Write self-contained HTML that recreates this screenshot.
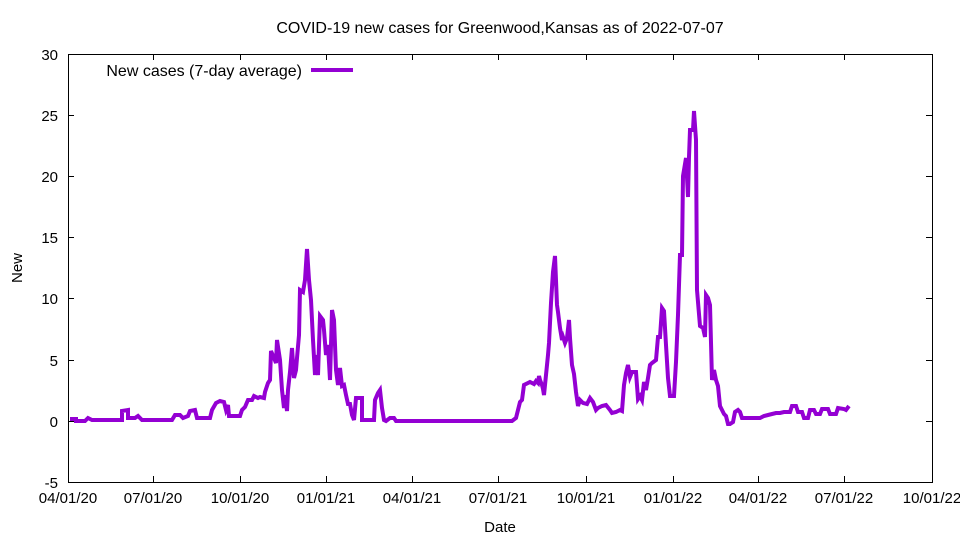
<!DOCTYPE html>
<html><head><style>body{margin:0;background:#fff}svg{display:block;font-family:"Liberation Sans",sans-serif}</style></head><body>
<svg width="960" height="540" viewBox="0 0 960 540" xmlns="http://www.w3.org/2000/svg">
<rect width="960" height="540" fill="#fff"/>
<text x="500" y="33" font-size="16" text-anchor="middle">COVID-19 new cases for Greenwood,Kansas as of 2022-07-07</text>
<g stroke="#000" stroke-width="1" fill="none">
<rect x="68.5" y="54.5" width="864" height="428"/>
<path d="M68 115.5h6M926 115.5h6M68 176.5h6M926 176.5h6M68 237.5h6M926 237.5h6M68 298.5h6M926 298.5h6M68 360.5h6M926 360.5h6M68 421.5h6M926 421.5h6"/>
<path d="M153.5 482v-6M153.5 54v6M240.5 482v-6M240.5 54v6M326.5 482v-6M326.5 54v6M412.5 482v-6M412.5 54v6M498.5 482v-6M498.5 54v6M586.5 482v-6M586.5 54v6M673.5 482v-6M673.5 54v6M758.5 482v-6M758.5 54v6M844.5 482v-6M844.5 54v6"/>
</g>
<g font-size="15" text-anchor="end">
<text x="58" y="60">30</text><text x="58" y="121">25</text><text x="58" y="182">20</text><text x="58" y="243">15</text><text x="58" y="304">10</text><text x="58" y="366">5</text><text x="58" y="427">0</text><text x="58" y="488">-5</text>
</g>
<g font-size="15" text-anchor="middle">
<text x="68" y="503">04/01/20</text><text x="153" y="503">07/01/20</text><text x="240" y="503">10/01/20</text><text x="326" y="503">01/01/21</text><text x="412" y="503">04/01/21</text><text x="498" y="503">07/01/21</text><text x="586" y="503">10/01/21</text><text x="673" y="503">01/01/22</text><text x="758" y="503">04/01/22</text><text x="844" y="503">07/01/22</text><text x="932" y="503">10/01/22</text>
<text x="500" y="532">Date</text>
<text transform="translate(22,268) rotate(-90)">New</text>
</g>
<text x="302" y="76" font-size="16" text-anchor="end">New cases (7-day average)</text>
<line x1="311" y1="70" x2="353" y2="70" stroke="#9400d3" stroke-width="4"/>
<polyline fill="none" stroke="#9400d3" stroke-width="4" stroke-linejoin="miter" points="70,419 76,419 76,421 85,421 88,418 92,420 122,420 122,411 128,410 128,418 135,418 138,416 142,420 172,420 175,415 180,415 183,418 188,416 190,411 195,410 197,418 210,418 212,410 216,403 220,401 224,402 226,410 228,405 229,416 240,416 242,410 245,407 248,400 252,400 254,396 258,398 260,397 264,398 265,392 268,383 270,380 271,351 274,358 276,363 277,340 280,360 282,390 284,408 285,395 287,411 288,390 290,372 292,348 294,378 296,370 297,358 299,335 300,290 303,292 305,280 307,249 309,280 311,300 313,340 315,375 316,355 318,375 320,316 323,320 324,330 326,355 328,345 330,380 332,310 334,320 336,370 338,385 340,368 342,386 344,385 346,395 348,404 350,404 352,415 354,420 356,398 362,398 362,420 374,420 375,400 378,393 380,390 382,408 384,420 386,421 390,418 394,418 396,421 512,421 516,418 518,410 520,402 522,400 524,385 530,382 534,384 536,381 538,383 539,376 540,380 542,385 543,389 544,395 546,375 548,355 549,343 551,303 553,272 555,256 557,305 558,312 560,328 562,340 563,337 565,343 567,338 569,320 570,338 572,365 574,374 576,392 578,406 580,400 583,403 587,404 590,398 593,402 596,410 598,408 602,406 606,405 610,410 612,413 616,412 620,410 622,411 624,385 626,373 628,365 630,377 632,372 634,372 636,372 638,399 640,396 642,400 644,382 646,390 648,378 650,365 652,363 656,360 658,337 660,337 662,308 664,311 666,345 668,378 670,396 674,396 676,362 678,315 680,255 682,255 683,176 686,158 688,197 689,157 690,130 693,130 694,111 696,140 697,290 700,326 703,328 705,337 706,295 708,298 710,305 712,380 714,370 716,380 718,386 720,406 722,410 724,414 726,416 728,424 730,424 733,422 735,412 738,410 740,412 742,418 745,418 755,418 760,418 764,416 768,415 772,414 776,413 780,413 784,412 790,412 792,406 796,406 798,412 802,412 804,418 808,418 810,410 814,410 816,414 820,414 822,409 828,409 830,414 836,414 838,408 844,409 846,410 849,406"/>
</svg>
</body></html>
